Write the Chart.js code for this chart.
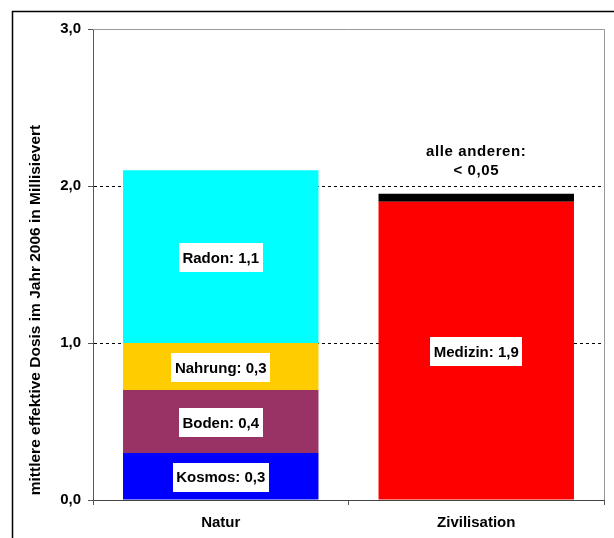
<!DOCTYPE html>
<html lang="de">
<head>
<meta charset="utf-8">
<title>Strahlenexposition 2006</title>
<script src="https://cdn.jsdelivr.net/npm/chart.js@4/dist/chart.umd.min.js"></script>
<style>
  html, body { margin: 0; padding: 0; background: #fff; }
  #chart { display: block; }
</style>
</head>
<body>
<canvas id="chart" width="614" height="538"></canvas>
<script>
// Kategorien und Anteile der mittleren effektiven Dosis (mSv)
const categories = ['Natur', 'Zivilisation'];
const kosmos   = [0.3, null];
const boden    = [0.4, null];
const nahrung  = [0.3, null];
const radon    = [1.1, null];
const medizin  = [null, 1.9];
const andere   = [null, 0.05];
const yTickValues = [0, 1, 2, 3];

const fmt = v => v.toFixed(1).replace('.', ',');
const FONT = '"Liberation Sans", Arial, sans-serif';

const series = [
  { label: 'Kosmos',       data: kosmos,  color: '#0000FF' },
  { label: 'Boden',        data: boden,   color: '#993366' },
  { label: 'Nahrung',      data: nahrung, color: '#FFCC00' },
  { label: 'Radon',        data: radon,   color: '#00FFFF' },
  { label: 'Medizin',      data: medizin, color: '#FF0000' },
  { label: 'alle anderen', data: andere,  color: '#000000' }
];

// Rahmen, Plotumrandung, Beschriftungen der Segmente und Achsentitel
const decorations = {
  id: 'decorations',
  beforeDraw(chart) {
    const ctx = chart.ctx;
    ctx.save();
    ctx.strokeStyle = '#000';
    ctx.lineWidth = 1.5;
    ctx.beginPath();
    ctx.moveTo(12.5, chart.height + 5);
    ctx.lineTo(12.5, 11.5);
    ctx.lineTo(chart.width + 5, 11.5);
    ctx.stroke();
    ctx.restore();
  },
  afterDatasetsDraw(chart) {
    const ctx = chart.ctx;
    const area = chart.chartArea;
    ctx.save();
    // obere und rechte Begrenzung der Zeichenfläche
    ctx.strokeStyle = '#999';
    ctx.lineWidth = 1;
    ctx.beginPath();
    ctx.moveTo(area.left, Math.round(area.top) + 0.5);
    ctx.lineTo(Math.round(area.right) + 0.5, Math.round(area.top) + 0.5);
    ctx.lineTo(Math.round(area.right) + 0.5, area.bottom);
    ctx.stroke();

    ctx.textAlign = 'center';
    ctx.textBaseline = 'middle';
    chart.data.datasets.forEach((ds, i) => {
      const meta = chart.getDatasetMeta(i);
      meta.data.forEach((bar, j) => {
        const v = ds.data[j];
        if (v === null || v === undefined) return;
        if (ds.label === 'alle anderen') {
          ctx.font = 'bold 15px ' + FONT;
          ctx.letterSpacing = '0.6px';
          ctx.fillStyle = '#000';
          const top = Math.min(bar.y, bar.base);
          ctx.fillText('alle anderen:', bar.x, top - 42);
          ctx.fillText('< ' + v.toFixed(2).replace('.', ','), bar.x, top - 23);
          ctx.letterSpacing = '0px';
          return;
        }
        const text = ds.label + ': ' + fmt(v);
        ctx.font = 'bold 15px ' + FONT;
        const w = ctx.measureText(text).width + 7;
        const h = 29;
        const cy = (bar.y + bar.base) / 2;
        ctx.fillStyle = '#fff';
        ctx.fillRect(Math.round(bar.x - w / 2), Math.round(cy - h / 2 + 1), Math.round(w), h);
        ctx.fillStyle = '#000';
        ctx.fillText(text, bar.x, cy + 2);
      });
    });
    ctx.restore();
  },
  afterDraw(chart) {
    const ctx = chart.ctx;
    ctx.save();
    ctx.translate(36, 310);
    ctx.rotate(-Math.PI / 2);
    ctx.font = 'bold 15.5px ' + FONT;
    ctx.fillStyle = '#000';
    ctx.textAlign = 'center';
    ctx.textBaseline = 'middle';
    ctx.fillText('mittlere effektive Dosis im Jahr 2006 in Millisievert', 0, 0);
    ctx.restore();
  }
};

new Chart(document.getElementById('chart'), {
  type: 'bar',
  data: {
    labels: categories,
    datasets: series.map(s => ({
      label: s.label,
      data: s.data,
      backgroundColor: s.color,
      borderWidth: 0,
      stack: 'dosis',
      categoryPercentage: 1,
      barPercentage: 0.765
    }))
  },
  options: {
    responsive: false,
    animation: false,
    devicePixelRatio: 1,
    layout: { padding: { left: 0, top: 29, right: 10, bottom: 0 } },
    plugins: {
      legend: { display: false },
      tooltip: { enabled: false }
    },
    scales: {
      x: {
        stacked: true,
        afterFit: s => { s.height = 38; },
        grid: {
          offset: true,
          drawOnChartArea: false,
          drawTicks: true,
          tickLength: 5,
          tickColor: '#555',
          color: '#555'
        },
        border: { display: true, color: '#444', width: 1 },
        ticks: {
          color: '#000',
          padding: 9,
          font: { family: FONT, size: 15, weight: 'bold' }
        }
      },
      y: {
        stacked: true,
        min: 0,
        max: 3,
        afterFit: s => { s.width = 93; },
        afterBuildTicks: s => { s.ticks = yTickValues.map(v => ({ value: v })); },
        grid: {
          drawTicks: true,
          tickLength: 5,
          tickColor: '#555',
          color: c => (c.tick && (c.tick.value === 1 || c.tick.value === 2)) ? '#000' : 'rgba(0,0,0,0)',
          lineWidth: 1
        },
        border: { display: true, color: '#555', width: 1, dash: [3, 3] },
        ticks: {
          color: '#000',
          padding: 7,
          font: { family: FONT, size: 15, weight: 'bold' },
          callback: v => fmt(v)
        }
      }
    }
  },
  plugins: [decorations]
});
</script>
</body>
</html>
